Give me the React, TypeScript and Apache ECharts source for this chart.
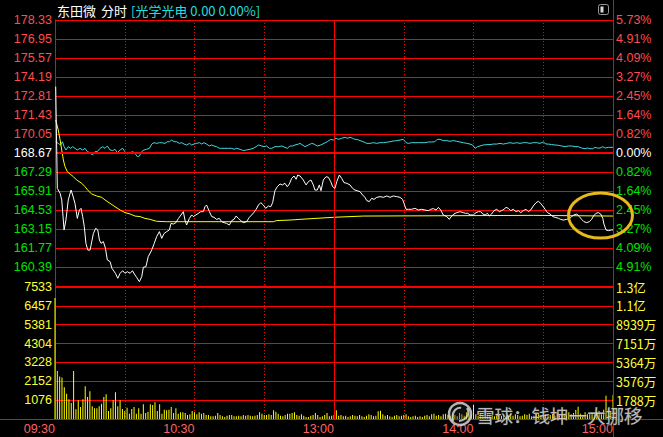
import React, { useEffect, useRef } from 'react';
import * as echarts from 'echarts';

// ---- data ----
const PREV_CLOSE = 168.67;
const PRICE_MIN = 159.01;
const PRICE_MAX = 178.33;
const PRICE_STEP = 1.38;
const VOL_MAX = 7533;

const timeLabels = ['09:30', '10:30', '13:00', '14:00', '15:00'];
const pctLabels = ['5.73%', '4.91%', '4.09%', '3.27%', '2.45%', '1.64%', '0.82%', '0.00%', '0.82%', '1.64%', '2.45%', '3.27%', '4.09%', '4.91%', '5.73%'];
const volLabels = ['0', '1076', '2152', '3228', '4304', '5381', '6457', '7533'];
const volAmtLabels = ['', '1788万', '3576万', '5364万', '7151万', '8939万', '1.1亿', '1.3亿'];

// [minute since 09:30, price]
const priceLine: [number, number][] = [
  [0.3, 173.49], [1.0, 166.1], [2.2, 165.74], [2.9, 165.26], [3.9, 163.08], [4.7, 163.8], [5.7, 165.26], [6.9, 165.98], [7.6, 165.62], [8.6, 165.01],
  [9.6, 163.92], [10.5, 164.53], [11.2, 164.65], [11.9, 164.05], [12.6, 163.32], [13.3, 162.11], [14.1, 161.62], [15.1, 161.62], [15.8, 162.23], [16.5, 162.82],
  [17.5, 163.2], [18.4, 163.08], [19.1, 162.35], [19.8, 162.11], [20.8, 162.23], [21.7, 161.75], [22.5, 160.9], [23.7, 160.78], [24.5, 160.29], [26.0, 159.93],
  [27.0, 159.57], [28.0, 159.93], [29.1, 160.12], [30.1, 159.93], [31.1, 160.05], [32.3, 159.93], [33.3, 160.12], [34.4, 159.81], [35.1, 159.64], [36.3, 159.32],
  [37.3, 159.69], [38.0, 160.37], [39.1, 160.41], [40.1, 161.14], [41.6, 161.62], [42.7, 162.11], [43.7, 162.59], [44.9, 162.96], [45.9, 162.47], [46.9, 162.82],
  [48.0, 162.96], [49.2, 163.08], [49.9, 163.56], [50.9, 163.51], [52.0, 163.61], [53.1, 163.92], [54.2, 164.17], [55.2, 164.41], [55.9, 163.8], [56.6, 163.44],
  [57.8, 163.92], [58.8, 164.17], [59.5, 164.05], [60.6, 164.17], [61.7, 164.29], [62.7, 164.41], [63.8, 164.41], [64.5, 164.77], [65.2, 164.89], [66.4, 164.41],
  [67.4, 164.05], [68.4, 164.0], [69.5, 163.85], [70.7, 163.92], [71.7, 163.68], [72.7, 163.61], [73.8, 163.56], [75.0, 163.44], [76.0, 163.76], [77.0, 163.85],
  [77.9, 164.09], [78.9, 163.92], [79.9, 163.76], [81.0, 163.61], [82.4, 163.68], [83.6, 164.0], [84.6, 164.17], [85.6, 164.36], [86.5, 164.58], [87.5, 164.89],
  [88.5, 165.06], [89.6, 164.89], [90.6, 164.65], [91.8, 164.82], [92.8, 164.77], [93.6, 165.06], [94.6, 165.93], [95.6, 166.22], [96.8, 166.42], [97.8, 166.35],
  [98.9, 166.47], [99.9, 166.22], [100.8, 166.42], [101.8, 166.83], [102.8, 167.0], [103.7, 166.76], [104.4, 167.07], [105.4, 167.0], [106.8, 166.71], [108.0, 166.35],
  [109.0, 166.59], [110.1, 166.71], [111.1, 166.35], [111.8, 165.98], [112.8, 165.98], [113.7, 166.35], [114.4, 165.93], [115.4, 166.71], [116.6, 166.95], [117.6, 166.9],
  [118.6, 166.59], [119.4, 166.23], [120.4, 166.1], [121.2, 166.59], [122.3, 167.07], [123.3, 166.83], [124.3, 166.52], [125.5, 166.47], [126.9, 166.35], [128.0, 166.1],
  [129.0, 165.98], [130.0, 165.93], [131.2, 165.86], [132.3, 165.62], [133.3, 165.45], [134.1, 165.21], [135.2, 165.14], [136.2, 165.38], [137.2, 165.3], [138.4, 165.45],
  [139.8, 165.5], [141.2, 165.45], [142.7, 165.55], [144.1, 165.45], [145.5, 165.55], [147.0, 165.5], [148.4, 165.45], [149.5, 165.3], [150.1, 165.01], [151.0, 164.58],
  [152.0, 164.58], [153.4, 164.58], [154.8, 164.65], [156.3, 164.53], [157.7, 164.58], [159.1, 164.53], [160.6, 164.48], [161.6, 164.58], [162.7, 164.63], [163.9, 164.53],
  [164.9, 164.72], [165.9, 164.53], [167.0, 164.17], [168.5, 164.05], [169.6, 163.85], [170.6, 164.09], [171.6, 164.24], [172.8, 164.34], [174.2, 164.41], [175.6, 164.34],
  [176.6, 164.29], [177.5, 164.29], [178.5, 164.17], [179.9, 164.17], [181.1, 164.34], [182.1, 164.41], [183.1, 164.41], [184.0, 164.24], [185.0, 164.17], [186.0, 164.29],
  [186.8, 164.09], [187.8, 164.24], [188.8, 164.48], [190.0, 164.58], [191.1, 164.41], [192.1, 164.48], [193.1, 164.58], [194.0, 164.72], [195.0, 164.65], [196.0, 164.48],
  [197.1, 164.58], [198.3, 164.41], [199.3, 164.48], [200.3, 164.34], [201.4, 164.48], [202.6, 164.58], [203.6, 164.41], [204.6, 164.53], [205.7, 164.82], [206.9, 165.06],
  [207.9, 165.16], [208.9, 165.01], [209.8, 164.82], [210.8, 164.58], [211.8, 164.34], [212.9, 164.24], [214.1, 164.05], [215.1, 164.0], [216.5, 163.93], [217.5, 163.85],
  [218.6, 163.8], [220.1, 163.85], [221.2, 163.93], [222.2, 164.05], [223.2, 164.17], [224.4, 164.24], [225.5, 164.05], [226.5, 163.85], [227.5, 163.68], [228.7, 163.61],
  [229.8, 163.68], [230.8, 163.85], [231.6, 164.09], [232.7, 164.29], [233.7, 164.34], [234.7, 164.24], [235.6, 163.93], [236.1, 163.51], [237.0, 163.08], [238.0, 163.03],
  [239.4, 163.08], [240, 163.08],
];

const avgLine: [number, number][] = [
  [0.3, 171.07], [1.4, 170.34], [2.2, 169.61], [2.9, 168.89], [3.6, 168.16], [4.3, 167.68], [5.3, 167.31], [6.5, 167.14], [7.9, 166.95], [9.3, 166.71],
  [11.5, 166.47], [12.9, 166.22], [14.3, 165.93], [15.8, 165.69], [17.9, 165.55], [20.1, 165.45], [21.5, 165.26], [23.7, 165.01], [25.8, 164.77], [28.0, 164.53],
  [30.1, 164.34], [32.3, 164.24], [34.4, 164.09], [36.6, 164.05], [38.7, 163.92], [40.9, 163.85], [43.7, 163.71], [48.0, 163.68], [93.9, 163.68], [95.3, 163.76],
  [101.1, 163.8], [105.4, 163.85], [119.7, 164.0], [132.6, 164.09], [205.7, 164.14], [240, 164.09],
];

// 光学光电 sector index, drawn on the price scale
const sectorLine: [number, number][] = [
  [0.3, 169.49], [1.4, 169.37], [2.4, 169.25], [3.2, 169.49], [3.9, 169.13], [4.7, 168.89], [5.7, 169.13], [6.7, 169.01], [7.6, 169.13], [8.6, 169.01],
  [9.6, 168.89], [10.8, 169.01], [11.9, 168.89], [12.9, 169.01], [13.9, 168.77], [15.1, 168.69], [16.1, 168.52], [17.2, 168.77], [18.2, 168.77], [19.4, 169.01],
  [20.5, 169.13], [21.5, 169.01], [22.5, 169.18], [23.7, 168.89], [24.8, 168.84], [25.8, 168.94], [26.8, 168.69], [28.0, 168.89], [29.1, 169.01], [30.1, 168.77],
  [31.1, 168.6], [32.3, 168.69], [33.4, 168.77], [34.4, 168.65], [35.4, 168.4], [36.3, 168.45], [37.3, 168.77], [38.3, 168.89], [39.4, 168.94], [40.6, 169.01],
  [41.6, 169.32], [42.6, 169.42], [43.7, 169.37], [44.9, 169.42], [45.9, 169.42], [47.3, 169.37], [48.3, 169.49], [49.2, 169.49], [50.2, 169.61], [51.2, 169.49],
  [52.3, 169.49], [53.5, 169.37], [54.5, 169.42], [55.5, 169.32], [56.6, 169.25], [57.8, 169.37], [58.8, 169.25], [59.8, 169.32], [60.9, 169.37], [62.1, 169.42],
  [63.1, 169.32], [64.1, 169.42], [65.2, 169.32], [66.4, 169.18], [67.4, 169.25], [68.4, 169.18], [69.5, 169.13], [70.7, 169.01], [71.7, 169.01], [73.1, 169.01],
  [74.6, 169.01], [76.0, 169.01], [77.0, 168.94], [78.1, 169.01], [79.6, 168.94], [81.0, 168.84], [82.4, 168.89], [83.9, 168.94], [85.3, 169.01], [86.5, 169.13],
  [87.5, 169.25], [88.9, 169.18], [89.9, 169.13], [91.0, 169.18], [92.2, 169.01], [93.2, 169.01], [94.6, 169.13], [96.1, 169.13], [97.5, 169.18], [98.9, 169.08],
  [99.9, 169.01], [101.1, 169.18], [102.2, 169.18], [103.2, 169.25], [104.7, 169.32], [105.4, 169.37], [107.5, 169.13], [109.0, 169.25], [110.4, 169.37], [111.4, 169.32],
  [112.8, 169.18], [114.3, 169.25], [115.7, 169.37], [117.1, 169.49], [118.6, 169.66], [119.7, 169.61], [120.9, 169.74], [121.9, 169.66], [123.3, 169.74], [124.7, 169.81],
  [125.7, 169.74], [126.9, 169.81], [128.0, 169.74], [129.0, 169.66], [130.0, 169.66], [131.2, 169.57], [132.6, 169.49], [134.1, 169.37], [135.5, 169.37], [136.9, 169.42],
  [138.4, 169.37], [139.8, 169.42], [141.2, 169.42], [142.7, 169.45], [144.1, 169.49], [145.5, 169.54], [147.0, 169.57], [148.4, 169.61], [149.8, 169.66], [151.0, 169.42],
  [152.0, 169.37], [153.4, 169.42], [156.3, 169.42], [159.1, 169.42], [160.6, 169.47], [162.0, 169.47], [163.4, 169.49], [164.4, 169.66], [165.6, 169.66], [167.0, 169.57],
  [168.5, 169.57], [169.9, 169.52], [171.3, 169.57], [172.8, 169.52], [174.2, 169.47], [175.6, 169.42], [177.1, 169.37], [178.5, 169.32], [179.6, 169.25], [180.7, 169.01],
  [181.7, 169.13], [182.8, 169.18], [184.2, 169.25], [185.7, 169.28], [187.1, 169.28], [188.5, 169.32], [190.0, 169.32], [191.4, 169.37], [192.8, 169.32], [194.3, 169.37],
  [195.7, 169.42], [197.1, 169.37], [198.6, 169.42], [200.0, 169.37], [201.4, 169.42], [202.9, 169.42], [204.3, 169.37], [205.7, 169.42], [207.2, 169.42], [208.6, 169.37],
  [210.0, 169.47], [211.2, 169.32], [212.2, 169.32], [213.6, 169.28], [215.1, 169.25], [216.5, 169.23], [217.9, 169.18], [219.4, 169.13], [220.8, 169.18], [222.2, 169.18],
  [223.7, 169.13], [225.1, 169.13], [226.5, 169.03], [228.0, 168.98], [229.0, 169.03], [230.1, 168.98], [231.3, 168.98], [232.3, 169.08], [233.3, 169.03], [234.4, 169.03],
  [235.6, 169.13], [236.6, 169.03], [238.0, 169.08], [240, 169.08],
];

// per-minute volume (hands), minute 0 = 09:30 ... 240 = 15:00
const volumes: number[] = [
  6900, 2736, 2432, 2375, 1805, 1444, 1121, 912, 2736, 551,
  1064, 684, 1121, 1862, 1254, 1577, 722, 608, 608, 722,
  874, 1254, 1406, 456, 608, 1064, 1520, 722, 1064, 570,
  456, 646, 304, 570, 684, 304, 608, 304, 836, 342,
  418, 836, 798, 950, 456, 836, 304, 532, 494, 532,
  684, 342, 608, 304, 380, 380, 342, 228, 266, 456,
  380, 266, 380, 304, 342, 228, 228, 152, 152, 190,
  342, 228, 152, 114, 190, 228, 228, 152, 152, 190,
  152, 228, 190, 228, 190, 152, 190, 228, 380, 304,
  228, 228, 266, 228, 494, 418, 304, 190, 152, 228,
  304, 304, 342, 380, 228, 190, 266, 190, 114, 114,
  190, 228, 342, 228, 114, 152, 228, 342, 152, 190,
  228,
  494, 190, 228, 152, 190, 114, 152, 228, 190, 152,
  228, 152, 114, 190, 266, 228, 152, 190, 437, 475,
  266, 190, 228, 152, 114, 190, 228, 152, 190, 228,
  266, 152, 114, 152, 190, 114, 152, 114, 190, 228,
  152, 266, 304, 190, 228, 152, 266, 304, 228, 190,
  304, 228, 152, 342, 266, 190, 380, 304, 228, 798,
  266, 190, 342, 228, 152, 266, 190, 228, 152, 304,
  228, 190, 266, 152, 228, 304, 190, 266, 228, 152,
  190, 266, 228, 304, 152, 190, 266, 342, 228, 190,
  266, 152, 228, 304, 190, 342, 228, 266, 304, 190,
  380, 266, 342, 513, 700, 304, 228, 380, 266, 304,
  342, 266, 380, 456, 304, 532, 1330, 608, 456, 1368,
];

// ---- styles ----
const RED = '#ff0000';
const FONT = '"Liberation Sans", Arial, sans-serif';
const CJK = '"Noto Sans CJK SC", "Liberation Sans", sans-serif';
const UP = '#ff4c4c';
const DOWN = '#00e400';
const VOLC = '#ffff33';

function priceColor(v: any) {
  const n = parseFloat(v);
  if (Math.abs(n - PREV_CLOSE) < 0.005) return '#ffffff';
  return n > PREV_CLOSE ? UP : DOWN;
}

export default function App() {
  const ref = useRef<HTMLDivElement>(null);
  useEffect(() => {
    document.body.style.margin = '0';
    document.body.style.background = '#000';
    const chart = echarts.init(ref.current!, null, { renderer: 'svg' });
    const volStep = VOL_MAX / 7;
    const dotted = { color: RED, width: 1, type: [1, 2] as any };
    const option: any = {
      animation: false,
      backgroundColor: '#000000',
      grid: [
        { left: 55, right: 50, top: 20, bottom: 151 },
        { left: 55, right: 50, top: 287, bottom: 18 },
      ],
      xAxis: [
        {
          type: 'value', gridIndex: 0, min: 0, max: 240, interval: 30,
          axisLine: { show: false }, axisTick: { show: false }, axisLabel: { show: false },
          splitLine: { show: true, lineStyle: dotted },
        },
        {
          type: 'value', gridIndex: 1, min: 0, max: 240, interval: 30,
          axisLine: { show: false }, axisTick: { show: false },
          axisLabel: {
            show: true, align: 'right', margin: 3, color: '#ff6262', fontSize: 12.5, fontFamily: FONT,
            formatter: (v: number) => (v % 60 === 0 ? timeLabels[v / 60] : ''),
          },
          splitLine: { show: true, lineStyle: dotted },
        },
      ],
      yAxis: [
        {
          type: 'value', gridIndex: 0, position: 'left', min: PRICE_MIN, max: PRICE_MAX, interval: PRICE_STEP,
          axisLine: { show: true, lineStyle: { color: RED, width: 1 } }, axisTick: { show: false },
          splitLine: { show: true, lineStyle: { color: RED, width: 1 } },
          axisLabel: {
            showMinLabel: false, margin: 3, fontSize: 12.5, fontFamily: FONT,
            formatter: (v: number) => Number(v).toFixed(2),
            color: (v: any) => priceColor(v),
          },
        },
        {
          type: 'value', gridIndex: 0, position: 'right', min: PRICE_MIN, max: PRICE_MAX, interval: PRICE_STEP,
          axisLine: { show: true, lineStyle: { color: RED, width: 1 } }, axisTick: { show: false },
          splitLine: { show: false },
          axisLabel: {
            showMinLabel: false, margin: 3, fontSize: 12.5, fontFamily: FONT,
            formatter: (v: number) => pctLabels[Math.round((v - PRICE_MIN) / PRICE_STEP)] ?? '',
            color: (v: any) => priceColor(v),
          },
        },
        {
          type: 'value', gridIndex: 1, position: 'left', min: 0, max: VOL_MAX, interval: volStep,
          axisLine: { show: true, lineStyle: { color: RED, width: 1 } }, axisTick: { show: false },
          splitLine: { show: true, lineStyle: { color: RED, width: 1 } },
          axisLabel: {
            showMinLabel: false, margin: 3, fontSize: 12.5, fontFamily: FONT, color: VOLC,
            formatter: (v: number) => volLabels[Math.round(v / volStep)] ?? '',
          },
        },
        {
          type: 'value', gridIndex: 1, position: 'right', min: 0, max: VOL_MAX, interval: volStep,
          axisLine: { show: true, lineStyle: { color: RED, width: 1 } }, axisTick: { show: false },
          splitLine: { show: false },
          axisLabel: {
            showMinLabel: false, margin: 3, fontSize: 12.5, fontFamily: CJK, color: VOLC,
            formatter: (v: number) => volAmtLabels[Math.round(v / volStep)] ?? '',
          },
        },
      ],
      series: [
        {
          name: '光学光电', type: 'line', xAxisIndex: 0, yAxisIndex: 0, data: sectorLine,
          symbol: 'none', lineStyle: { color: '#3fd8e0', width: 1 }, z: 3,
          markLine: {
            silent: true, symbol: 'none', label: { show: false },
            data: [
              { yAxis: PREV_CLOSE, lineStyle: { color: RED, width: 2, type: 'solid' } },
              { xAxis: 120, lineStyle: { color: RED, width: 1, type: 'solid' } },
            ],
          },
        },
        {
          name: '均价', type: 'line', xAxisIndex: 0, yAxisIndex: 0, data: avgLine,
          symbol: 'none', lineStyle: { color: '#ffff00', width: 1 }, z: 4,
        },
        {
          name: '东田微', type: 'line', xAxisIndex: 0, yAxisIndex: 0, data: priceLine,
          symbol: 'none', lineStyle: { color: '#ffffff', width: 1 }, z: 5,
        },
        {
          name: '成交量', type: 'bar', xAxisIndex: 1, yAxisIndex: 2,
          data: volumes.map((v, i) => [i, v]), barWidth: 1,
          itemStyle: { color: '#ffff00' }, z: 3,
          markLine: {
            silent: true, symbol: 'none', label: { show: false },
            data: [{ xAxis: 120, lineStyle: { color: RED, width: 1, type: 'solid' } }],
          },
        },
      ],
      graphic: [
        { type: 'line', shape: { x1: 0, y1: 419.5, x2: 663, y2: 419.5 }, style: { stroke: RED, lineWidth: 1 }, z: 10 },
        { type: 'line', shape: { x1: 613.5, y1: 0, x2: 613.5, y2: 437 }, style: { stroke: RED, lineWidth: 1 }, z: 10 },
        { type: 'text', x: 57, y: 10, style: { text: '东田微', font: `13px ${CJK}`, fill: '#ffffff', verticalAlign: 'middle' } },
        { type: 'text', x: 101, y: 10, style: { text: '分时', font: `13px ${CJK}`, fill: '#ffffff', verticalAlign: 'middle' } },
        { type: 'text', x: 131, y: 10, style: { text: '[光学光电 0.00 0.00%]', font: `13px ${CJK}`, fill: '#22dede', verticalAlign: 'middle' } },
        { type: 'rect', shape: { x: 598.5, y: 4.5, width: 10, height: 10, r: 2 }, style: { stroke: '#9a9a9a', fill: 'none', lineWidth: 1 } },
        { type: 'rect', shape: { x: 600.5, y: 6.5, width: 3, height: 6 }, style: { fill: '#d8d8d8' } },
        {
          type: 'ellipse', shape: { cx: 600.5, cy: 215.5, rx: 32, ry: 22.5 },
          style: { stroke: '#e8b81c', fill: 'none', lineWidth: 3 }, z: 20,
        },
        {
          type: 'circle', shape: { cx: 460, cy: 414, r: 11 },
          style: { stroke: 'rgba(225,225,225,0.8)', fill: 'rgba(40,40,40,0.35)', lineWidth: 2.5 }, z: 20,
        },
        {
          type: 'bezierCurve', shape: { x1: 453, y1: 421, x2: 461, y2: 408, cpx1: 451, cpy1: 410, cpx2: 458, cpy2: 407 },
          style: { stroke: 'rgba(225,225,225,0.8)', fill: 'none', lineWidth: 2.2 }, z: 20,
        },
        {
          type: 'bezierCurve', shape: { x1: 459, y1: 421, x2: 467, y2: 408, cpx1: 468, cpy1: 420, cpx2: 470, cpy2: 412 },
          style: { stroke: 'rgba(225,225,225,0.8)', fill: 'none', lineWidth: 2.2 }, z: 20,
        },
        {
          type: 'text', x: 476, y: 415,
          style: {
            text: '雪球：钱坤一大挪移', font: `18.5px ${CJK}`, fill: 'rgba(232,232,232,0.8)',
            stroke: 'rgba(50,50,50,0.7)', lineWidth: 1, verticalAlign: 'middle',
          },
          z: 20,
        },
      ],
    };
    chart.setOption(option);
    return () => chart.dispose();
  }, []);
  return <div ref={ref} style={{ width: 663, height: 437 }} />;
}
